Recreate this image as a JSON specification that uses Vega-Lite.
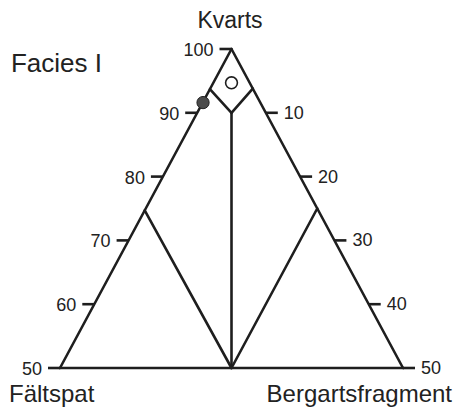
{
  "$schema": "https://vega.github.io/schema/vega-lite/v6.json",
  "width": 457,
  "height": 410,
  "autosize": "none",
  "padding": 0,
  "background": "white",
  "config": {
    "view": {"stroke": null},
    "text": {"font": "Liberation Sans", "color": "#222222"}
  },
  "datasets": {
    "segments": [
      {"part": "left edge", "x": -50, "q": 50, "x2": 0, "q2": 100},
      {"part": "right edge", "x": 0, "q": 100, "x2": 50, "q2": 50},
      {"part": "base", "x": -50, "q": 50, "x2": 50, "q2": 50},
      {"part": "centre", "x": 0, "q": 50, "x2": 0, "q2": 90},
      {"part": "upper left", "x": -6.3, "q": 93.7, "x2": 0, "q2": 90},
      {"part": "upper right", "x": 6.2, "q": 93.8, "x2": 0, "q2": 90},
      {"part": "lower left", "x": -25.3, "q": 74.7, "x2": 0, "q2": 50},
      {"part": "lower right", "x": 25, "q": 75, "x2": 0, "q2": 50}
    ],
    "leftTicks": [
      {"x": 0, "q": 100, "label": "100"},
      {"x": -10, "q": 90, "label": "90"},
      {"x": -20, "q": 80, "label": "80"},
      {"x": -30, "q": 70, "label": "70"},
      {"x": -40, "q": 60, "label": "60"},
      {"x": -50, "q": 50, "label": "50"}
    ],
    "rightTicks": [
      {"x": 10, "q": 90, "label": "10"},
      {"x": 20, "q": 80, "label": "20"},
      {"x": 30, "q": 70, "label": "30"},
      {"x": 40, "q": 60, "label": "40"},
      {"x": 50, "q": 50, "label": "50"}
    ],
    "samples": [
      {"sample": "A", "x": -8.3, "q": 91.6, "kind": "filled"},
      {"sample": "B", "x": 0, "q": 94.7, "kind": "open"}
    ]
  },
  "layer": [
    {
      "data": {"name": "segments"},
      "mark": {"type": "rule", "strokeWidth": 2.6, "color": "#1e1e1e", "strokeCap": "round"},
      "encoding": {
        "x": {"field": "x", "type": "quantitative", "scale": {"domain": [-67.49, 65.74], "nice": false, "zero": false}, "axis": null},
        "y": {"field": "q", "type": "quantitative", "scale": {"domain": [43.417, 107.68], "nice": false, "zero": false}, "axis": null},
        "x2": {"field": "x2"},
        "y2": {"field": "q2"}
      }
    },
    {
      "data": {"name": "leftTicks"},
      "mark": {"type": "rule", "strokeWidth": 2.6, "color": "#1e1e1e", "x2Offset": -12},
      "encoding": {
        "x": {"field": "x", "type": "quantitative"},
        "x2": {"field": "x"},
        "y": {"field": "q", "type": "quantitative"}
      }
    },
    {
      "data": {"name": "leftTicks"},
      "mark": {"type": "text", "align": "right", "baseline": "middle", "dx": -18, "dy": 2, "fontSize": 18},
      "encoding": {
        "x": {"field": "x", "type": "quantitative"},
        "y": {"field": "q", "type": "quantitative"},
        "text": {"field": "label"}
      }
    },
    {
      "data": {"name": "rightTicks"},
      "mark": {"type": "rule", "strokeWidth": 2.6, "color": "#1e1e1e", "x2Offset": 12},
      "encoding": {
        "x": {"field": "x", "type": "quantitative"},
        "x2": {"field": "x"},
        "y": {"field": "q", "type": "quantitative"}
      }
    },
    {
      "data": {"name": "rightTicks"},
      "mark": {"type": "text", "align": "left", "baseline": "middle", "dx": 18, "dy": 1, "fontSize": 18},
      "encoding": {
        "x": {"field": "x", "type": "quantitative"},
        "y": {"field": "q", "type": "quantitative"},
        "text": {"field": "label"}
      }
    },
    {
      "data": {"name": "samples"},
      "transform": [{"filter": "datum.kind === 'filled'"}],
      "mark": {"type": "point", "shape": "circle", "filled": true, "size": 150, "color": "#4a4a4a", "stroke": "#222222", "strokeWidth": 1, "opacity": 1},
      "encoding": {
        "x": {"field": "x", "type": "quantitative"},
        "y": {"field": "q", "type": "quantitative"}
      }
    },
    {
      "data": {"name": "samples"},
      "transform": [{"filter": "datum.kind === 'open'"}],
      "mark": {"type": "point", "shape": "circle", "filled": false, "size": 140, "stroke": "#1e1e1e", "strokeWidth": 1.6, "opacity": 1},
      "encoding": {
        "x": {"field": "x", "type": "quantitative"},
        "y": {"field": "q", "type": "quantitative"}
      }
    },
    {
      "data": {"values": [{"label": "Kvarts"}]},
      "mark": {"type": "text", "align": "center", "baseline": "alphabetic", "fontSize": 23},
      "encoding": {
        "x": {"datum": -0.44, "type": "quantitative"},
        "y": {"datum": 103.29, "type": "quantitative"},
        "text": {"field": "label"}
      }
    },
    {
      "data": {"values": [{"label": "Facies I"}]},
      "mark": {"type": "text", "align": "left", "baseline": "alphabetic", "fontSize": 26},
      "encoding": {
        "x": {"datum": -64.29, "type": "quantitative"},
        "y": {"datum": 96.39, "type": "quantitative"},
        "text": {"field": "label"}
      }
    },
    {
      "data": {"values": [{"label": "Fältspat"}]},
      "mark": {"type": "text", "align": "left", "baseline": "alphabetic", "fontSize": 24},
      "encoding": {
        "x": {"datum": -64.87, "type": "quantitative"},
        "y": {"datum": 44.67, "type": "quantitative"},
        "text": {"field": "label"}
      }
    },
    {
      "data": {"values": [{"label": "Bergartsfragment"}]},
      "mark": {"type": "text", "align": "right", "baseline": "alphabetic", "fontSize": 24},
      "encoding": {
        "x": {"datum": 64.29, "type": "quantitative"},
        "y": {"datum": 44.67, "type": "quantitative"},
        "text": {"field": "label"}
      }
    }
  ]
}
